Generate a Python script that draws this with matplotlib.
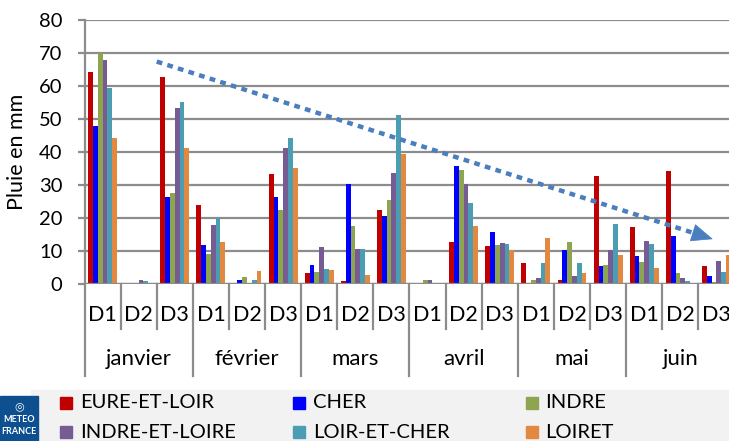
import numpy as np
import matplotlib
matplotlib.use("Agg")
import matplotlib.pyplot as plt
from matplotlib.transforms import blended_transform_factory
from matplotlib.patches import Rectangle

plt.rcParams["font.family"] = ["Lato", "DejaVu Sans"]

mois = ["janvier", "février", "mars", "avril", "mai", "juin"]
decades = ["D1", "D2", "D3"]

departements = ["EURE-ET-LOIR", "CHER", "INDRE", "INDRE-ET-LOIRE", "LOIR-ET-CHER", "LOIRET"]
couleurs = ["#c00000", "#0000ff", "#8ea54f", "#765c93", "#4a9db3", "#e2893f"]

# pluie par decade (18 valeurs : janvier D1 ... juin D3)
eure_et_loir = [64.2, 0.3, 62.7, 24.0, 0.0, 33.2, 3.3, 0.9, 22.5,
                0.0, 12.8, 11.4, 6.5, 1.3, 32.7, 17.3, 34.1, 5.6]
cher = [47.8, 0.0, 26.4, 11.9, 1.1, 26.5, 5.9, 30.2, 20.6,
        0.0, 35.7, 15.9, 0.3, 10.4, 5.4, 8.6, 14.6, 2.5]
indre = [70.1, 0.0, 27.5, 9.1, 2.1, 22.3, 3.7, 17.5, 25.6,
         1.1, 34.5, 11.8, 1.1, 12.8, 5.8, 6.7, 3.3, 0.5]
indre_et_loire = [67.8, 1.3, 53.2, 17.8, 0.0, 41.3, 11.2, 10.5, 33.5,
                  1.1, 30.4, 12.3, 1.7, 2.5, 10.4, 12.9, 1.9, 6.9]
loir_et_cher = [59.5, 0.9, 55.3, 19.9, 1.3, 44.3, 4.4, 10.5, 51.3,
                0.3, 24.6, 12.1, 6.5, 6.5, 18.3, 12.1, 0.9, 3.7]
loiret = [44.3, 0.0, 41.2, 12.6, 3.9, 35.1, 4.1, 2.7, 39.4,
          0.0, 17.6, 10.4, 13.9, 3.3, 8.7, 5.0, 0.3, 8.9]

series = [eure_et_loir, cher, indre, indre_et_loire, loir_et_cher, loiret]

# tendance (debut / fin de la fleche)
tendance_debut = (1.5, 67.4)
tendance_fin = (16.9, 13.6)

gris = "#8c8c8c"

fig = plt.figure(figsize=(7.29, 4.41), dpi=100)
ax = fig.add_axes([84.5 / 729, 1 - 284 / 441, 650 / 729, 264 / 441])

n = len(mois) * len(decades)
x = np.arange(n)
w = 0.133
for k, (vals, c) in enumerate(zip(series, couleurs)):
    ax.bar(x + (k - 2.5) * w, vals, width=w, color=c, edgecolor="none", zorder=3)

ax.set_xlim(-0.5, n - 0.5)
ax.set_ylim(0, 80)
ax.set_yticks(range(0, 81, 10))
ax.yaxis.grid(True, color=gris, lw=1.6, zorder=0)
for s in ["top", "right", "bottom"]:
    ax.spines[s].set_visible(False)
ax.spines["left"].set_color(gris)
ax.spines["left"].set_linewidth(1.6)
ax.tick_params(axis="y", length=5, width=1.6, color=gris, pad=11, labelsize=14.5)
ax.tick_params(axis="x", length=0, labelbottom=False)
ax.axhline(0, color=gris, lw=1.6, zorder=4)

fig.text(17 / 729, 1 - 151.5 / 441, "Pluie en mm", rotation=90,
         ha="center", va="center", fontsize=15.5)

# axe des categories
tr = blended_transform_factory(ax.transData, fig.transFigure)
y0 = 1 - 284 / 441
for i in range(n + 1):
    bas = 376 if i % 3 == 0 else 329
    ax.plot([i - 0.5, i - 0.5], [y0, 1 - bas / 441], transform=tr,
            color=gris, lw=1.6, clip_on=False, zorder=4)
for i in range(n):
    ax.text(i, 1 - 315 / 441, decades[i % 3], transform=tr,
            ha="center", va="center", fontsize=15.5)
for m, nom in enumerate(mois):
    ax.text(3 * m + 1, 1 - 359 / 441, nom, transform=tr,
            ha="center", va="center", fontsize=16)

# fleche de tendance
frac = 0.966
base = (tendance_debut[0] + frac * (tendance_fin[0] - tendance_debut[0]),
        tendance_debut[1] + frac * (tendance_fin[1] - tendance_debut[1]))
ax.plot([tendance_debut[0], base[0]], [tendance_debut[1], base[1]],
        color="#4a7ebf", lw=3.2, linestyle=(0, (1.3, 1.2)), zorder=5)
ax.annotate("", xy=tendance_fin, xytext=base,
            arrowprops=dict(arrowstyle="-|>,head_length=1.0,head_width=0.42",
                            mutation_scale=14.4, color="#4a7ebf", lw=0.5,
                            shrinkA=0, shrinkB=0), zorder=5)

# legende
fig.patches.append(Rectangle((31 / 729, 0), 1 - 31 / 729, 51 / 441,
                             transform=fig.transFigure, color="#f2f2f2", zorder=0))
col_x = [60, 293, 525.6]
row_y = [403, 432]
for k, (nom, c) in enumerate(zip(departements, couleurs)):
    cx = col_x[k % 3]
    cy = row_y[k // 3]
    fig.patches.append(Rectangle((cx / 729, 1 - (cy + 6) / 441), 12 / 729, 12 / 441,
                                 transform=fig.transFigure, color=c, zorder=2))
    fig.text((cx + 20) / 729, 1 - cy / 441, nom, ha="left", va="center", fontsize=14.5)

# logo
fig.patches.append(Rectangle((0, 0), 38 / 729, 45 / 441,
                             transform=fig.transFigure, color="#0d4f8f", zorder=2))
fig.text(19 / 729, 1 - 406 / 441, "◎", color="white", ha="center", va="center",
         fontsize=8, family="DejaVu Sans", zorder=3)
fig.text(19 / 729, 1 - 420 / 441, "METEO", color="white", ha="center", va="center",
         fontsize=6.5, weight="bold", zorder=3)
fig.text(19 / 729, 1 - 432 / 441, "FRANCE", color="white", ha="center", va="center",
         fontsize=6.5, weight="bold", zorder=3)

fig.savefig("out.png", dpi=100)
